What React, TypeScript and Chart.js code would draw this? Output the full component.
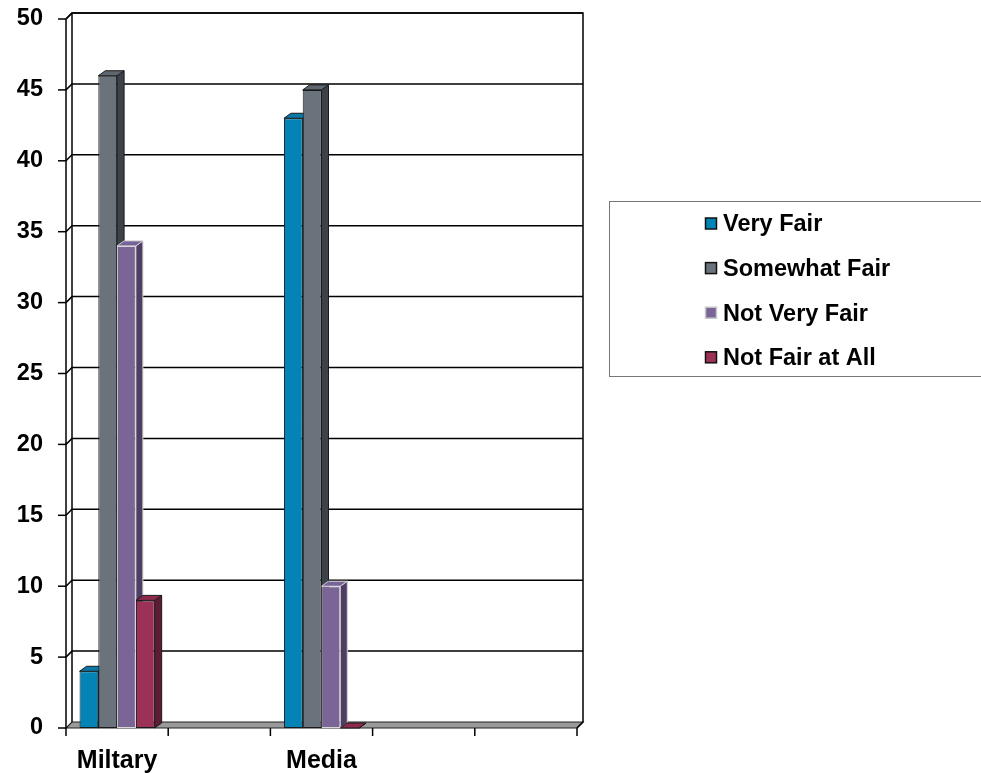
import React, { useEffect, useRef } from "react";
import { Chart, registerables } from "chart.js";

Chart.register(...registerables);

const categories = ["Miltary", "", "Media", "", ""];
const seriesNames = ["Very Fair", "Somewhat Fair", "Not Very Fair", "Not Fair at All"];
const veryFair = [4, null, 43, null, null];
const somewhatFair = [46, null, 45, null, null];
const notVeryFair = [34, null, 10, null, null];
const notFairAtAll = [9, null, 0, null, null];
const yTicks = [0, 5, 10, 15, 20, 25, 30, 35, 40, 45, 50];

const frontColors = ["#0483B6", "#6A727C", "#7B6597", "#9C3157"];
const sideColors = ["#02557A", "#3C4249", "#4E3E63", "#5E1B34"];
const topColors = ["#0A79A8", "#5E666F", "#76639A", "#8E2A4E"];
const borderColors = ["#1a1a1a", "#1a1a1a", "#d8d8d8", "#1a1a1a"];

const FONT = "'Liberation Sans', Arial, sans-serif";
const WALL_DX = 6;
const WALL_DY = -6;
const BAR_DX = 7;
const BAR_DY = -5;

const threeD = {
  id: "threeD",
  beforeDatasetsDraw(chart: any) {
    const ctx = chart.ctx;
    const ys = chart.scales.y;
    const { left, right, top, bottom } = chart.chartArea;
    ctx.save();
    ctx.beginPath();
    ctx.moveTo(left, bottom);
    ctx.lineTo(right, bottom);
    ctx.lineTo(right + WALL_DX, bottom + WALL_DY);
    ctx.lineTo(left + WALL_DX, bottom + WALL_DY);
    ctx.closePath();
    ctx.fillStyle = "#9a9a9a";
    ctx.fill();
    ctx.strokeStyle = "#222";
    ctx.lineWidth = 1.2;
    ctx.stroke();
    ctx.strokeStyle = "#000";
    ctx.lineWidth = 1.5;
    for (const v of yTicks) {
      const py = ys.getPixelForValue(v);
      ctx.beginPath();
      if (v !== 0) {
        ctx.moveTo(left, py);
        ctx.lineTo(left + WALL_DX, py + WALL_DY);
        ctx.lineTo(right + WALL_DX, py + WALL_DY);
      }
      ctx.stroke();
      ctx.beginPath();
      ctx.moveTo(left - 8, py);
      ctx.lineTo(left, py);
      ctx.stroke();
    }
    ctx.beginPath();
    ctx.moveTo(left, bottom);
    ctx.lineTo(left, top);
    ctx.lineTo(left + WALL_DX, top + WALL_DY);
    ctx.lineTo(right + WALL_DX, top + WALL_DY);
    ctx.lineTo(right + WALL_DX, bottom + WALL_DY);
    ctx.lineTo(right, bottom);
    ctx.moveTo(left + WALL_DX, top + WALL_DY);
    ctx.lineTo(left + WALL_DX, bottom + WALL_DY);
    ctx.stroke();
    const n = categories.length;
    const step = (right - left) / n;
    for (let i = 0; i <= n; i++) {
      const px = left + i * step;
      ctx.beginPath();
      ctx.moveTo(px, bottom);
      ctx.lineTo(px, bottom + 8);
      ctx.stroke();
    }
    chart.data.datasets.forEach((ds: any, di: number) => {
      const meta = chart.getDatasetMeta(di);
      meta.data.forEach((bar: any, i: number) => {
        const v = ds.data[i];
        if (v === null || v === undefined) return;
        const { x, y, base, width } = bar.getProps(["x", "y", "base", "width"], true);
        const l = x - width / 2;
        const r = x + width / 2;
        ctx.lineWidth = 1;
        ctx.strokeStyle = di === 2 ? "#cfcfcf" : "#1a1a1a";
        ctx.beginPath();
        ctx.moveTo(r, y);
        ctx.lineTo(r + BAR_DX, y + BAR_DY);
        ctx.lineTo(r + BAR_DX, base + BAR_DY);
        ctx.lineTo(r, base);
        ctx.closePath();
        ctx.fillStyle = sideColors[di];
        ctx.fill();
        ctx.stroke();
        ctx.beginPath();
        ctx.moveTo(l, y);
        ctx.lineTo(l + BAR_DX, y + BAR_DY);
        ctx.lineTo(r + BAR_DX, y + BAR_DY);
        ctx.lineTo(r, y);
        ctx.closePath();
        ctx.fillStyle = topColors[di];
        ctx.fill();
        ctx.stroke();
      });
    });
    ctx.restore();
  },
  afterDraw(chart: any) {
    const ctx = chart.ctx;
    ctx.save();
    ctx.strokeStyle = "#777";
    ctx.lineWidth = 1;
    ctx.strokeRect(609.5, 201.5, 380, 175);
    ctx.font = `bold 23.5px ${FONT}`;
    ctx.textBaseline = "middle";
    ctx.textAlign = "left";
    chart.data.datasets.forEach((ds: any, di: number) => {
      const cy = 224 + di * 44.6;
      ctx.fillStyle = frontColors[di];
      ctx.fillRect(705.5, cy - 6, 11, 11);
      ctx.strokeStyle = di === 2 ? "#c8c8c8" : "#111";
      ctx.lineWidth = 1.5;
      ctx.strokeRect(705.5, cy - 6, 11, 11);
      ctx.fillStyle = "#000";
      ctx.fillText(ds.label, 723, cy + 1);
    });
    ctx.restore();
  },
};

export default function App() {
  const ref = useRef<HTMLCanvasElement | null>(null);
  useEffect(() => {
    document.body.style.margin = "0";
    const seriesData = [veryFair, somewhatFair, notVeryFair, notFairAtAll];
    const chart = new Chart(ref.current as HTMLCanvasElement, {
      type: "bar",
      data: {
        labels: categories,
        datasets: seriesNames.map((name, i) => ({
          label: name,
          data: seriesData[i],
          backgroundColor: frontColors[i],
          borderColor: borderColors[i],
          borderWidth: 1,
          categoryPercentage: 0.735,
          barPercentage: 1,
          borderSkipped: false,
        })),
      },
      options: {
        responsive: false,
        animation: false,
        events: [],
        layout: { padding: { left: 0, top: 19, right: 404, bottom: 0 } },
        plugins: { legend: { display: false }, tooltip: { enabled: false } },
        scales: {
          x: {
            grid: { display: false, drawTicks: false },
            border: { display: false },
            ticks: {
              autoSkip: false,
              maxRotation: 0,
              padding: 18,
              color: "#000",
              font: { family: FONT, size: 25, weight: "bold" },
            },
            afterFit(scale: any) {
              scale.height = 45;
              scale.paddingLeft = 0;
              scale.paddingRight = 0;
            },
          },
          y: {
            min: 0,
            max: 50,
            grid: { display: false, drawTicks: false },
            border: { display: false },
            ticks: {
              stepSize: 5,
              padding: 23,
              color: "#000",
              font: { family: FONT, size: 23.5, weight: "bold" },
            },
            afterFit(scale: any) {
              scale.width = 66;
              scale.paddingTop = 0;
              scale.paddingBottom = 0;
            },
          },
        },
      },
      plugins: [threeD],
    });
    return () => chart.destroy();
  }, []);
  return (
    <div style={{ position: "absolute", left: 0, top: 0, width: 981, height: 773, background: "#fff" }}>
      <canvas ref={ref} width={981} height={773} style={{ display: "block" }} />
    </div>
  );
}
